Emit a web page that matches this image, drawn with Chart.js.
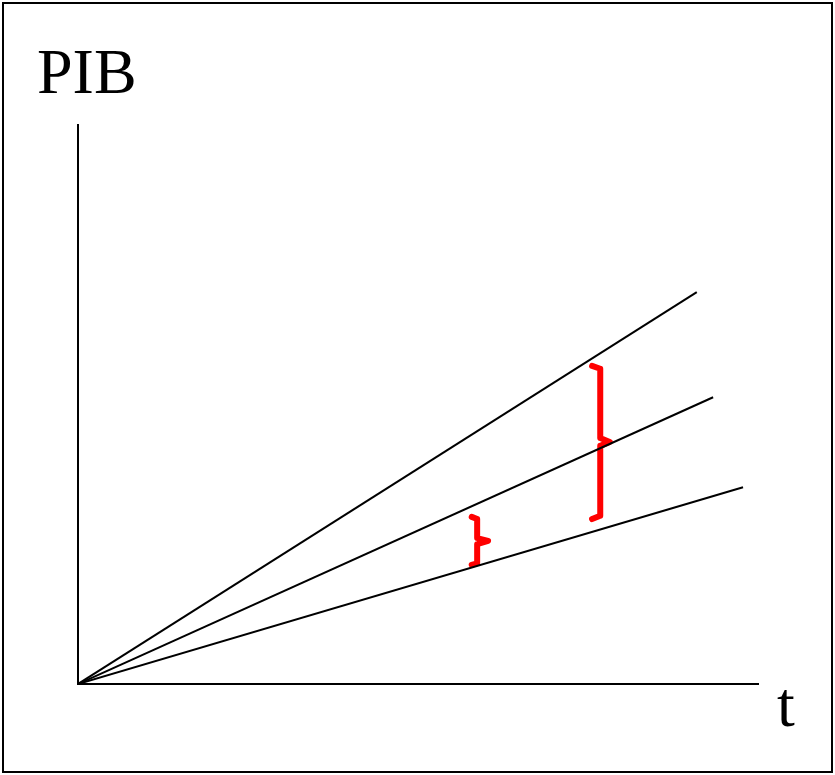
<!DOCTYPE html>
<html>
<head>
<meta charset="utf-8">
<script src="https://cdn.jsdelivr.net/npm/chart.js@4.4.1/dist/chart.umd.min.js"></script>
<style>
  html, body { margin: 0; padding: 0; background: #fff; }
  canvas { display: block; }
</style>
</head>
<body>
<canvas id="pibChart" width="835" height="775"></canvas>
<script>
// axis labels
const yLabel = 'PIB';
const xLabel = 't';

// three growth paths, all from the origin (x = t, y = PIB, 0..100 units)
const lineHigh = [{ x: 0, y: 0 }, { x: 91.0, y: 70.1 }];
const lineMid  = [{ x: 0, y: 0 }, { x: 93.4, y: 51.3 }];
const lineLow  = [{ x: 0, y: 0 }, { x: 97.8, y: 35.2 }];

// red braces marking the gap between the middle and low paths
const braceSmall = [
    { x: 57.9, y: 29.9 }, { x: 58.7, y: 29.5 }, { x: 58.7, y: 26.1 },
    { x: 60.3, y: 25.6 }, { x: 58.7, y: 25.0 }, { x: 58.7, y: 21.6 },
    { x: 57.9, y: 21.3 }
];
const braceLarge = [
    { x: 75.6, y: 56.9 }, { x: 76.8, y: 56.4 }, { x: 76.8, y: 44.0 },
    { x: 78.2, y: 43.3 }, { x: 76.8, y: 42.6 }, { x: 76.8, y: 30.1 },
    { x: 75.6, y: 29.5 }
];

const frameAndLabels = {
    id: 'frameAndLabels',
    afterDraw(c) {
        const ctx = c.ctx;
        ctx.save();
        ctx.strokeStyle = '#000';
        ctx.lineWidth = 2;
        ctx.strokeRect(3, 3, 829, 769);
        ctx.fillStyle = '#000';
        ctx.font = '64px "Liberation Serif", "DejaVu Serif", serif';
        ctx.textBaseline = 'alphabetic';
        ctx.fillText(yLabel, 37, 93);
        ctx.fillText(xLabel, 777, 726);
        ctx.restore();
    }
};

function blackLine(data) {
    return { data, borderColor: '#000', borderWidth: 2, pointRadius: 0, showLine: true, fill: false };
}
function redBrace(data) {
    return { data, borderColor: '#ff0000', borderWidth: 6, pointRadius: 0, showLine: true, fill: false,
             borderJoinStyle: 'round', borderCapStyle: 'round' };
}

new Chart(document.getElementById('pibChart'), {
    type: 'scatter',
    data: {
        datasets: [
            blackLine(lineHigh),
            blackLine(lineMid),
            blackLine(lineLow),
            redBrace(braceSmall),
            redBrace(braceLarge)
        ]
    },
    options: {
        responsive: false,
        animation: false,
        layout: { padding: { left: 70, top: 125, right: 77, bottom: 83 } },
        plugins: { legend: { display: false }, tooltip: { enabled: false } },
        scales: {
            x: {
                type: 'linear', min: 0, max: 100,
                ticks: { display: false },
                grid: { display: false },
                border: { display: true, color: '#000', width: 2 }
            },
            y: {
                type: 'linear', min: 0, max: 100,
                ticks: { display: false },
                grid: { display: false },
                border: { display: true, color: '#000', width: 2 }
            }
        }
    },
    plugins: [frameAndLabels]
});
</script>
</body>
</html>
